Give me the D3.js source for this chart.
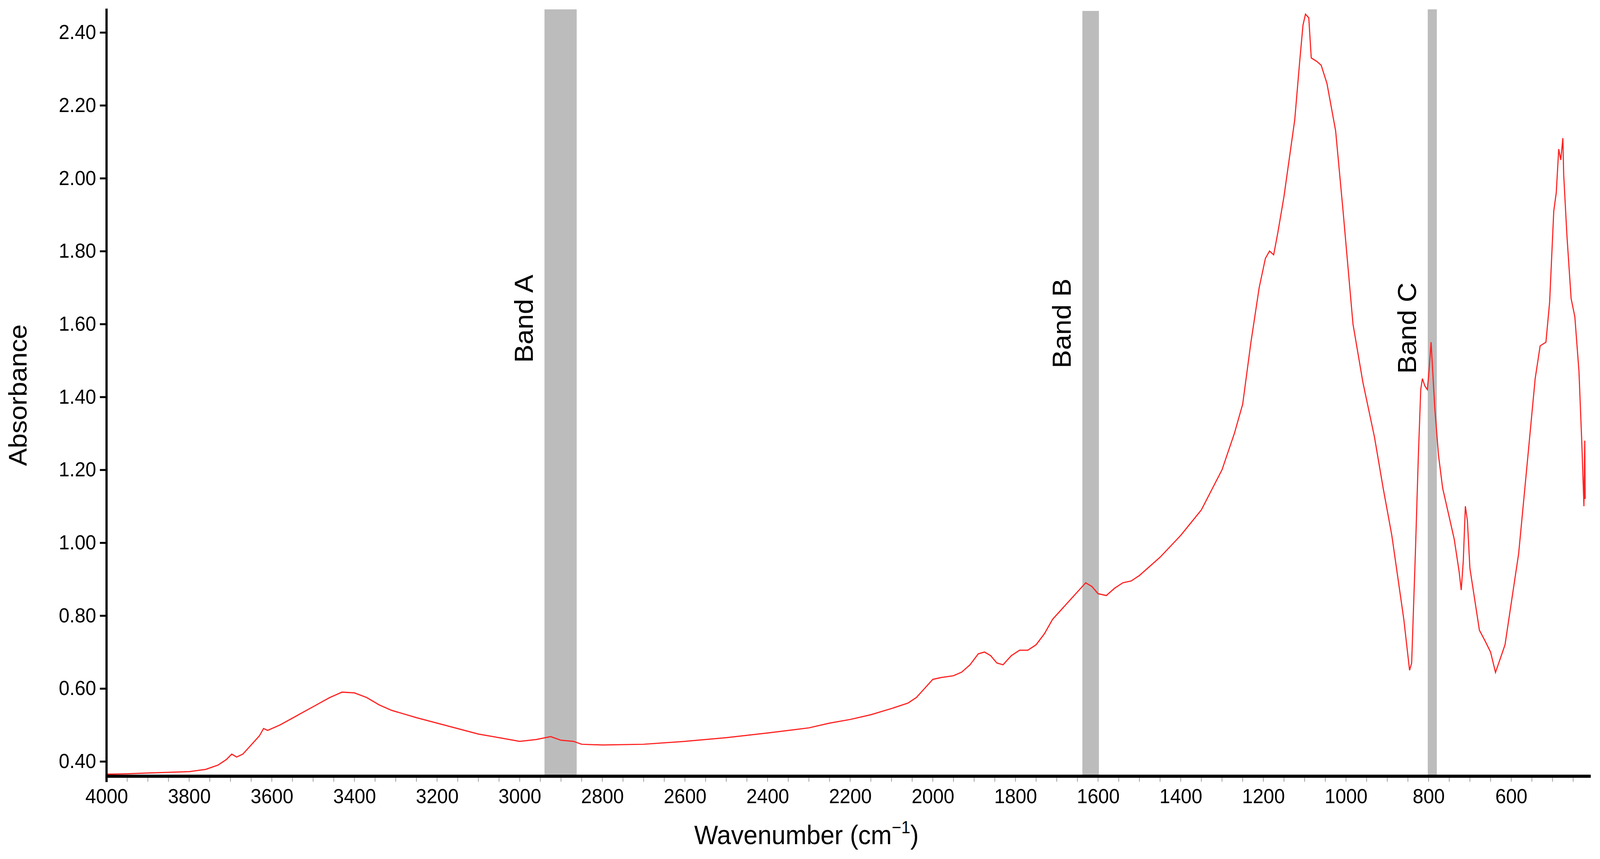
<!DOCTYPE html>
<html><head><meta charset="utf-8">
<script src="https://cdn.jsdelivr.net/npm/d3@7"></script>
<style>html,body{margin:0;padding:0;background:#fff;overflow:hidden}svg{display:block;width:100vw;height:100vh}text{font-family:"Liberation Sans",Arial,sans-serif}</style>
</head><body><svg id="c" viewBox="0 0 4325 2200" preserveAspectRatio="none"></svg>
<script>
const wavenumber = [4000,3950,3900,3850,3800,3760,3730,3710,3697,3685,3670,3650,3630,3620,3610,3580,3540,3500,3460,3430,3400,3370,3340,3310,3280,3250,3200,3150,3100,3050,3000,2960,2925,2900,2870,2850,2800,2700,2600,2500,2400,2300,2250,2200,2150,2100,2060,2040,2020,2000,1980,1950,1930,1910,1890,1875,1860,1845,1830,1810,1790,1770,1750,1730,1710,1690,1670,1650,1630,1615,1600,1580,1560,1540,1520,1500,1450,1400,1350,1300,1270,1250,1230,1210,1195,1185,1175,1165,1150,1124,1112,1104,1098,1090,1084,1070,1060,1046,1025,1007,983,959,931,910,889,860,846,841,832,825,819,815,809,803,799,794,785,776,766,752,738,726,721,716,711,706,700,677,663,650,638,615,582,559,542,530,516,507,497,491,485,480,475,473,465,455,446,436,429,424,422,421];
const absorbance = [.365,.366,.368,.370,.372,.378,.39,.405,.42,.412,.42,.445,.47,.49,.485,.50,.525,.55,.575,.59,.588,.575,.555,.54,.53,.52,.505,.49,.475,.465,.455,.46,.468,.458,.455,.447,.445,.447,.455,.465,.478,.492,.505,.515,.528,.545,.56,.575,.60,.625,.63,.635,.645,.665,.695,.70,.69,.67,.665,.69,.705,.705,.72,.75,.79,.815,.84,.865,.89,.88,.86,.855,.875,.89,.895,.91,.96,1.02,1.09,1.20,1.30,1.38,1.55,1.70,1.78,1.80,1.79,1.85,1.95,2.16,2.32,2.42,2.45,2.44,2.33,2.32,2.31,2.26,2.13,1.91,1.60,1.44,1.29,1.15,1.02,0.79,0.65,0.67,0.97,1.23,1.42,1.45,1.43,1.42,1.47,1.55,1.37,1.24,1.15,1.08,1.01,0.92,0.87,0.95,1.10,1.06,0.93,0.76,0.73,0.70,0.644,0.72,0.97,1.245,1.45,1.54,1.55,1.66,1.91,1.96,2.08,2.05,2.11,2.01,1.84,1.67,1.62,1.47,1.27,1.10,1.28,1.12];
const bandNames = ["Band A","Band B","Band C"];
const bandFrom = [2940,1638,802];
const bandTo = [2862,1598,780];
const xTicks = [4000,3800,3600,3400,3200,3000,2800,2600,2400,2200,2000,1800,1600,1400,1200,1000,800,600];
const yTicks = [0.40,0.60,0.80,1.00,1.20,1.40,1.60,1.80,2.00,2.20,2.40];

const svg = d3.select("#c");
const x = d3.scaleLinear().domain([4000,600]).range([288,4085]);
const y = d3.scaleLinear().domain([0.40,2.40]).range([1950,83]);
const yBot = y.invert(1988), yTop = y.invert(22);

svg.selectAll("rect.band").data(bandNames).enter().append("rect")
  .attr("x",(d,i)=>x(bandFrom[i])).attr("width",(d,i)=>x(bandTo[i])-x(bandFrom[i]))
  .attr("y",(d,i)=>y(yTop)+(i==1?6:2)).attr("height",(d,i)=>y(yBot)-y(yTop)-(i==1?6:2))
  .attr("fill","#bcbcbc");
const labelY=[929,943,957];
svg.selectAll("text.band").data(bandNames).enter().append("text")
  .attr("transform",(d,i)=>`translate(${x(bandFrom[i])-32},${labelY[i]}) rotate(-90)`)
  .attr("font-size",70).text(d=>d);

const pts = wavenumber.map((w,i)=>[w,absorbance[i]]);
svg.append("path").datum(pts)
  .attr("d",d3.line().x(d=>x(d[0])).y(d=>y(d[1])))
  .attr("fill","none").attr("stroke","#ff2020").attr("stroke-width",3);

const xAxis = d3.axisBottom(x).tickValues(xTicks).tickSize(0).tickPadding(32).tickFormat(d3.format("d"));
const gx = svg.append("g").attr("transform",`translate(0,${y(yBot)})`).call(xAxis);
gx.select(".domain").remove();
gx.append("line").attr("x1",x(4000)-3).attr("x2",4300).attr("stroke","#000").attr("stroke-width",8);
gx.selectAll("line.minor").data(d3.range(4000,400,-50)).enter().append("line")
  .attr("x1",d=>x(d)).attr("x2",d=>x(d)).attr("y1",4).attr("y2",14).attr("stroke","#999").attr("stroke-width",2);
gx.selectAll(".tick text").attr("font-size",52).attr("fill","#000").attr("font-family","Liberation Sans, Arial");

const yAxis = d3.axisLeft(y).tickValues(yTicks).tickSize(18).tickPadding(10).tickFormat(d3.format(".2f"));
const gy = svg.append("g").attr("transform",`translate(${x(4000)},0)`).call(yAxis);
gy.select(".domain").remove();
gy.append("line").attr("y1",y(yTop)).attr("y2",y(yBot)+15).attr("stroke","#000").attr("stroke-width",6);
gy.selectAll(".tick line").attr("stroke-width",5);
gy.selectAll(".tick text").attr("font-size",52).attr("fill","#000").attr("font-family","Liberation Sans, Arial");

svg.append("text").attr("transform",`translate(72,1012) rotate(-90)`).attr("text-anchor","middle")
  .attr("font-size",68).text("Absorbance");
const xt = svg.append("text").attr("x",2180).attr("y",2162).attr("text-anchor","middle").attr("font-size",68);
xt.append("tspan").text("Wavenumber (cm");
xt.append("tspan").attr("dy",-28).attr("font-size",44).text("\u22121");
xt.append("tspan").attr("dy",28).text(")");
</script></body></html>
